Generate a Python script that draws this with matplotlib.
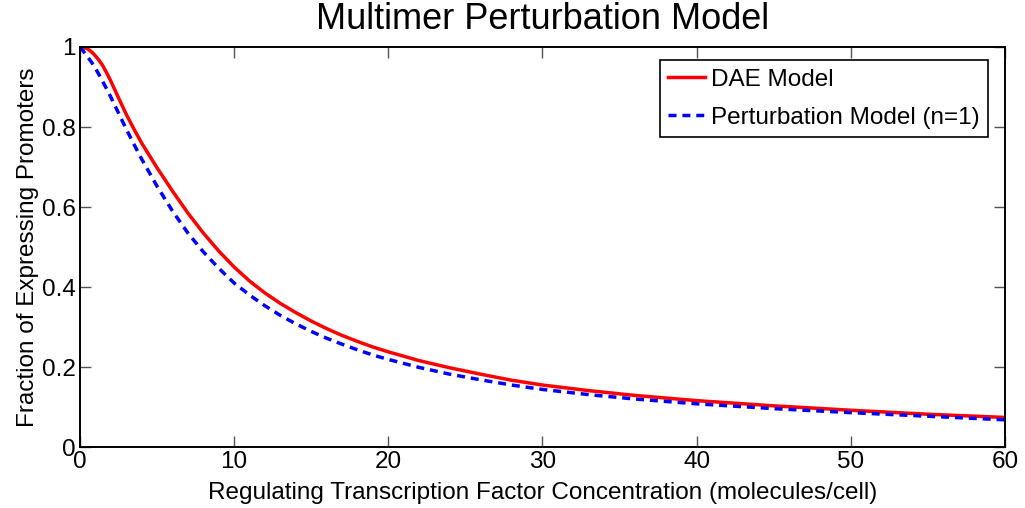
import matplotlib
matplotlib.use('Agg')
import matplotlib.pyplot as plt

plt.rcParams['font.family'] = ['Liberation Sans', 'DejaVu Sans']

# values
conc = [0, 0.25, 0.5, 0.75, 1, 1.25, 1.5, 1.75, 2, 2.5, 3, 3.5, 4, 5, 6, 7, 8, 9, 10,
        11, 12, 13, 14, 15, 16, 17, 18, 19, 20, 22, 24, 26, 28, 30, 33, 36, 40,
        45, 50, 55, 60]
dae = [1.0, 0.999, 0.995, 0.988, 0.978, 0.966, 0.952, 0.934, 0.915, 0.873,
       0.832, 0.795, 0.76, 0.698, 0.64, 0.585, 0.535, 0.49, 0.45,
       0.415, 0.385, 0.359, 0.336, 0.315, 0.296, 0.279, 0.264, 0.25, 0.238,
       0.216, 0.198, 0.182, 0.167, 0.155, 0.141, 0.129, 0.116,
       0.103, 0.092, 0.082, 0.074]
pert = [1.0, 0.988, 0.975, 0.962, 0.947, 0.93, 0.912, 0.894, 0.875, 0.835,
        0.795, 0.757, 0.72, 0.652, 0.59, 0.535, 0.488, 0.447, 0.41,
        0.38, 0.353, 0.329, 0.308, 0.289, 0.272, 0.257, 0.243, 0.23, 0.219,
        0.199, 0.182, 0.168, 0.155, 0.144, 0.131, 0.12, 0.108,
        0.096, 0.086, 0.077, 0.068]
xticks = [0, 10, 20, 30, 40, 50, 60]
yticks = [0, 0.2, 0.4, 0.6, 0.8, 1]
ylabels = ['0', '0.2', '0.4', '0.6', '0.8', '1']

fig = plt.figure(figsize=(10.25, 5.08), dpi=100)
ax = fig.add_axes([0.078, 0.12, 0.9025, 0.7875])

ax.plot(conc, dae, color='red', lw=2.5, label='DAE Model')
ax.plot(conc, pert, color='blue', lw=2.5, ls=(0, (2.3, 1.7)), label='Perturbation Model (n=1)')

ax.set_xlim(0, 60)
ax.set_ylim(0, 1)
ax.set_xticks(xticks)
ax.set_xticklabels([str(t) for t in xticks])
ax.set_yticks(yticks)
ax.set_yticklabels(ylabels)
ax.tick_params(direction='in', length=8, width=1, colors='#555555', labelcolor='black',
               labelsize=17.5, top=True, right=True)
ax.tick_params(axis='x', pad=3)
ax.tick_params(axis='y', pad=3)
for s in ax.spines.values():
    s.set_linewidth(1.4)

ax.set_title('Multimer Perturbation Model', fontsize=26, pad=13)
ax.set_xlabel('Regulating Transcription Factor Concentration (molecules/cell)', fontsize=17.5, labelpad=6)
ax.set_ylabel('Fraction of Expressing Promoters', fontsize=17.5, labelpad=2)

leg = ax.legend(loc='upper right', bbox_to_anchor=(0.9816, 0.967), borderaxespad=0,
                fontsize=17.5, fancybox=False, edgecolor='black', framealpha=1,
                handlelength=1.5, handletextpad=0.25, borderpad=0.35, labelspacing=0.65)
leg.get_frame().set_linewidth(1.2)

fig.savefig('out.png', dpi=100)
